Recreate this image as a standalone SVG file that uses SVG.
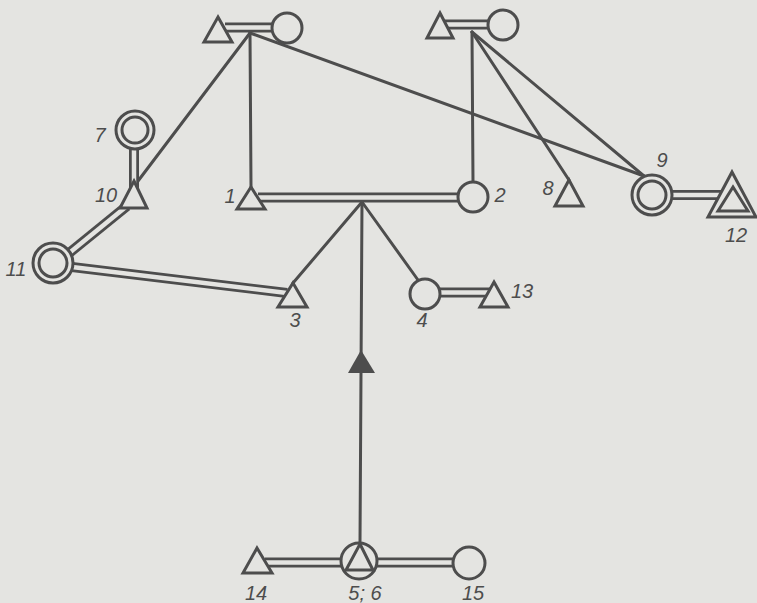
<svg xmlns="http://www.w3.org/2000/svg" xmlns:xlink="http://www.w3.org/1999/xlink" width="757" height="603" viewBox="0 0 757 603">
<style>
.ln{fill:none;stroke:#4d4d4d;stroke-width:3;stroke-linecap:round}
.outer{fill:none;stroke:#4d4d4d;stroke-width:10}
.inner{fill:none;stroke:#e4e4e1;stroke-width:4.5}
.nd{fill:#e4e4e1;stroke:#4d4d4d;stroke-width:3;stroke-linejoin:miter}
.lb{font-family:"Liberation Sans",Arial,sans-serif;font-style:italic;font-size:20px;fill:#4d4d4d;text-anchor:middle}
</style>
<defs>
<path id="d1" d="M225 27.5H275"/>
<path id="d2" d="M445 24.5H492"/>
<path id="d3" d="M134 148V190"/>
<path id="d4" d="M127 206L68 254"/>
<path id="d5" d="M72 267L287 293"/>
<path id="d6" d="M258 197.5H460"/>
<path id="d7" d="M670 195H722"/>
<path id="d8" d="M438 292.5H490"/>
<path id="d9" d="M265 562.5H345"/>
<path id="d10" d="M375 562.5H455"/>
</defs>
<rect width="757" height="603" fill="#e4e4e1"/>
<g id="connectors">
<path class="ln" d="M250 33L251 187"/>
<path class="ln" d="M250 33L135 185"/>
<path class="ln" d="M250 33L644 176"/>
<path class="ln" d="M472 32L473 182"/>
<path class="ln" d="M472 32L569 180"/>
<path class="ln" d="M472 32L644 176"/>
<path class="ln" d="M362 202L293 283"/>
<path class="ln" d="M362 202L418 280"/>
<path class="ln" d="M362 202L360 543"/>
<path d="M361 350L375 373L348 373Z" fill="#4d4d4d"/>
<use xlink:href="#d1" class="outer"/><use xlink:href="#d1" class="inner"/>
<use xlink:href="#d2" class="outer"/><use xlink:href="#d2" class="inner"/>
<use xlink:href="#d3" class="outer"/><use xlink:href="#d3" class="inner"/>
<use xlink:href="#d4" class="outer"/><use xlink:href="#d4" class="inner"/>
<use xlink:href="#d5" class="outer"/><use xlink:href="#d5" class="inner"/>
<use xlink:href="#d6" class="outer"/><use xlink:href="#d6" class="inner"/>
<use xlink:href="#d7" class="outer"/><use xlink:href="#d7" class="inner"/>
<use xlink:href="#d8" class="outer"/><use xlink:href="#d8" class="inner"/>
<use xlink:href="#d9" class="outer"/><use xlink:href="#d9" class="inner"/>
<use xlink:href="#d10" class="outer"/><use xlink:href="#d10" class="inner"/>
</g>
<g id="top-left-triangle"><path class="nd" d="M218 17L232 42H204Z"/></g>
<g id="top-left-circle"><circle class="nd" cx="287" cy="28" r="15"/></g>
<g id="top-mid-triangle"><path class="nd" d="M440 13L453 38H427Z"/></g>
<g id="top-mid-circle"><circle class="nd" cx="503" cy="25" r="15"/></g>
<g id="n7"><circle class="nd" cx="135" cy="130" r="19"/><circle class="nd" cx="135" cy="130" r="13"/><text class="lb" x="100" y="142">7</text></g>
<g id="n10"><path class="nd" d="M134 181L147 208H120Z"/><text class="lb" x="106" y="202">10</text></g>
<g id="n11"><circle class="nd" cx="53" cy="263" r="20"/><circle class="nd" cx="53" cy="263" r="14"/><text class="lb" x="16" y="276">11</text></g>
<g id="n1"><path class="nd" d="M251 187L265 209H237Z"/><text class="lb" x="230" y="203">1</text></g>
<g id="n3"><path class="nd" d="M293 283L307 307H278Z"/><text class="lb" x="295" y="327">3</text></g>
<g id="n2"><circle class="nd" cx="473" cy="197" r="15"/><text class="lb" x="500" y="202">2</text></g>
<g id="n8"><path class="nd" d="M569 180L583 206H555Z"/><text class="lb" x="548" y="195">8</text></g>
<g id="n9"><circle class="nd" cx="652" cy="195" r="20"/><circle class="nd" cx="652" cy="195" r="14"/><text class="lb" x="662" y="167">9</text></g>
<g id="n12"><path class="nd" d="M732 172L756 217H708Z"/><path class="nd" d="M733 187L748 211H718Z"/><text class="lb" x="736" y="242">12</text></g>
<g id="n4"><circle class="nd" cx="425" cy="294" r="15"/><text class="lb" x="422" y="327">4</text></g>
<g id="n13"><path class="nd" d="M494 282L508 307H480Z"/><text class="lb" x="522" y="298">13</text></g>
<g id="n5-6"><circle class="nd" cx="359" cy="561" r="18"/><path class="nd" d="M360 544L373 570H346Z"/><text class="lb" x="365" y="600">5; 6</text></g>
<g id="n14"><path class="nd" d="M257 548L272 573H243Z"/><text class="lb" x="256" y="600">14</text></g>
<g id="n15"><circle class="nd" cx="469" cy="563" r="16"/><text class="lb" x="473" y="600">15</text></g>
</svg>
